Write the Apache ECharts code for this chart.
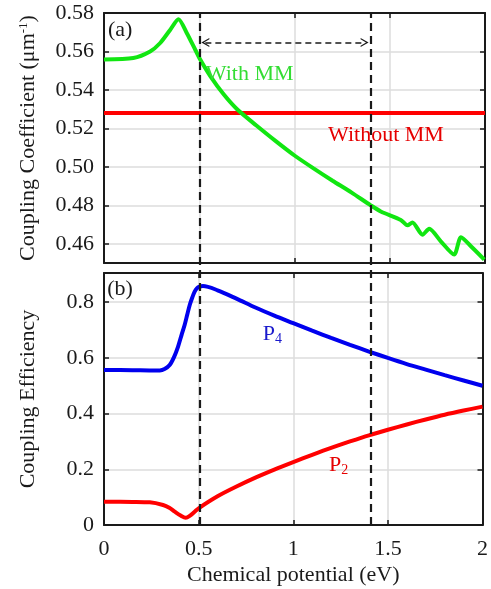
<!DOCTYPE html>
<html>
<head>
<meta charset="utf-8">
<script src="https://cdn.jsdelivr.net/npm/echarts@6/dist/echarts.min.js"></script>
<style>
  html, body { margin: 0; padding: 0; background: #fff; }
  #chart { width: 491px; height: 589px; }
</style>
</head>
<body>
<div id="chart"></div>
<script>
// Chemical potential (eV) sample points and curves
const withMMx = [0, 0.154, 0.242, 0.295, 0.347, 0.391, 0.435, 0.479, 0.505, 0.558, 0.628, 0.7, 0.8, 0.9, 1.0, 1.1, 1.2, 1.3, 1.4, 1.453, 1.558, 1.593, 1.619, 1.672, 1.707, 1.768, 1.838, 1.874, 1.926, 1.996];
const withMMy = [0.5558, 0.5566, 0.560, 0.5644, 0.5712, 0.5768, 0.5695, 0.5609, 0.5558, 0.5472, 0.5377, 0.5298, 0.5215, 0.5135, 0.5059, 0.4992, 0.4928, 0.4866, 0.4800, 0.4768, 0.4724, 0.4696, 0.4711, 0.4647, 0.4678, 0.4613, 0.4544, 0.4634, 0.4587, 0.4518];
const withoutMM = 0.528;

const p4x = [0, 0.15, 0.25, 0.295, 0.32, 0.347, 0.37, 0.391, 0.41, 0.426, 0.44, 0.453, 0.466, 0.479, 0.492, 0.505, 0.523, 0.6, 0.7, 0.8, 0.9, 1.0, 1.1, 1.2, 1.3, 1.4, 1.5, 1.6, 1.7, 1.8, 1.9, 2.0];
const p4y = [0.5566, 0.556, 0.555, 0.555, 0.560, 0.5745, 0.603, 0.640, 0.683, 0.718, 0.756, 0.790, 0.816, 0.838, 0.851, 0.856, 0.858, 0.843, 0.813, 0.781, 0.752, 0.725, 0.698, 0.672, 0.647, 0.623, 0.600, 0.578, 0.558, 0.538, 0.519, 0.500];

const p2x = [0, 0.15, 0.242, 0.312, 0.345, 0.374, 0.405, 0.432, 0.455, 0.479, 0.5, 0.6, 0.7, 0.8, 0.9, 1.0, 1.1, 1.2, 1.3, 1.4, 1.5, 1.6, 1.7, 1.8, 1.9, 2.0];
const p2y = [0.0837, 0.083, 0.0814, 0.0718, 0.062, 0.0478, 0.034, 0.0262, 0.034, 0.0478, 0.060, 0.103, 0.138, 0.170, 0.199, 0.226, 0.252, 0.277, 0.300, 0.322, 0.342, 0.361, 0.379, 0.396, 0.411, 0.425];

// Marked region boundaries
const markA = 0.5, markB = 1.4, arrowLevel = 0.5647;

const topTicks = [0.46, 0.48, 0.50, 0.52, 0.54, 0.56, 0.58];
const botTicks = [0, 0.2, 0.4, 0.6, 0.8];

const pairs = (xs, ys) => xs.map((x, i) => [x, ys[i]]);

const FONT = 'Liberation Serif';
const FS = 22;
const INK = '#1a1a1a';
const GRIDC = '#dcdcdc';

const chart = echarts.init(document.getElementById('chart'), null, { renderer: 'canvas' });

const L = 104, W = 381;
function xAx(gi, showLabels, pos) {
  return {
    type: 'value', gridIndex: gi, min: 0, max: 2, interval: 0.5, position: pos,
    axisLine: { show: true, onZero: false, lineStyle: { color: INK, width: 2 } },
    axisTick: { show: true, inside: true, length: 5, lineStyle: { color: INK, width: 1.5 } },
    axisLabel: { show: showLabels, fontFamily: FONT, fontSize: FS, color: INK, margin: 13 },
    splitLine: { show: pos === 'bottom', lineStyle: { color: GRIDC, width: 1.5 } }
  };
}
function yAx(gi, min, max, ticks, fmt, pos, name, rich) {
  const ax = {
    type: 'value', gridIndex: gi, min: min, max: max, position: pos,
    axisLine: { show: true, onZero: false, lineStyle: { color: INK, width: 2 } },
    axisTick: { show: true, inside: true, length: 5, customValues: ticks, lineStyle: { color: INK, width: 1.5 } },
    axisLabel: pos === 'left' ? { show: true, customValues: ticks, formatter: fmt, fontFamily: FONT, fontSize: FS, color: INK, margin: 10, padding: [4, 0, 0, 0] } : { show: false },
    splitLine: { show: pos === 'left', lineStyle: { color: GRIDC, width: 1.5 } }
  };
  if (name) {
    ax.name = name;
    ax.nameLocation = 'middle';
    ax.nameGap = 65;
    ax.nameTextStyle = { fontFamily: FONT, fontSize: FS, color: INK, rich: rich || {} };
  }
  return ax;
}

const textLabel = (coord, text, color, rich) => ({
  coord: coord, value: 0, symbolSize: 0,
  label: { show: true, position: 'inside', formatter: text, color: color, fontFamily: FONT, fontSize: FS, rich: rich || {} }
});

const supRich = {
  sup: { fontFamily: FONT, fontSize: 13, color: INK, verticalAlign: 'top', lineHeight: 22, padding: [0, 0, 9, 0] }
};
const subRich = (color) => ({
  sub: { fontFamily: FONT, fontSize: 14, color: color, padding: [11, 0, 0, 0] }
});

// Open arrow head, tip pointing up
const ARROW = 'path://M5,0 L10,8 L8.6,8 L5,2.6 L1.4,8 L0,8 Z';

const option = {
  backgroundColor: '#fff',
  animation: false,
  grid: [
    { left: L, top: 13, width: W, height: 250, show: false },
    { left: L, top: 273, width: W, height: 252, show: false },
    { left: L, top: 13, width: W, height: 512, show: false }
  ],
  xAxis: [
    xAx(0, false, 'bottom'), xAx(0, false, 'top'),
    Object.assign(xAx(1, true, 'bottom'), {
      name: 'Chemical potential (eV)', nameLocation: 'middle', nameGap: 39,
      nameTextStyle: { fontFamily: FONT, fontSize: FS, color: INK }
    }),
    xAx(1, false, 'top'),
    { type: 'value', gridIndex: 2, min: 0, max: 2, show: false }
  ],
  yAxis: [
    yAx(0, 0.45, 0.58, topTicks, v => v.toFixed(2), 'left', 'Coupling Coefficient (μm{sup|-1})', supRich),
    yAx(0, 0.45, 0.58, topTicks, null, 'right'),
    yAx(1, 0, 0.905, botTicks, v => (v === 0 ? '0' : v.toFixed(1)), 'left', 'Coupling Efficiency'),
    yAx(1, 0, 0.905, botTicks, null, 'right'),
    { type: 'value', gridIndex: 2, min: 0, max: 1, show: false }
  ],
  series: [
    {
      name: 'Without MM', type: 'line', xAxisIndex: 0, yAxisIndex: 0,
      data: [[0, withoutMM], [2, withoutMM]], showSymbol: false,
      lineStyle: { color: '#ff0000', width: 4 }, z: 3,
      markPoint: { silent: true, data: [textLabel([1.48, 0.5165], 'Without MM', '#e60000')] }
    },
    {
      name: 'With MM', type: 'line', xAxisIndex: 0, yAxisIndex: 0,
      data: pairs(withMMx, withMMy), showSymbol: false, smooth: 0.25,
      lineStyle: { color: '#11e611', width: 4 }, z: 4,
      markPoint: { silent: true, data: [
        textLabel([0.765, 0.548], 'With MM', '#33dd33'),
        textLabel([0.085, 0.5712], '(a)', INK)
      ] },
      markLine: {
        silent: true, symbol: [ARROW, ARROW], symbolSize: [9, 8],
        label: { show: false },
        lineStyle: { color: INK, type: [6, 4], width: 1.6 },
        data: [[{ coord: [markA + 0.032, arrowLevel] }, { coord: [markB - 0.032, arrowLevel] }]]
      }
    },
    {
      name: 'P4', type: 'line', xAxisIndex: 2, yAxisIndex: 2,
      data: pairs(p4x, p4y), showSymbol: false, smooth: 0.3,
      lineStyle: { color: '#0000ee', width: 4 }, z: 4,
      markPoint: { silent: true, data: [
        textLabel([0.89, 0.685], 'P{sub|4}', '#1a1acc', subRich('#1a1acc')),
        textLabel([0.085, 0.845], '(b)', INK)
      ] }
    },
    {
      name: 'P2', type: 'line', xAxisIndex: 2, yAxisIndex: 2,
      data: pairs(p2x, p2y), showSymbol: false, smooth: 0.3,
      lineStyle: { color: '#ff0000', width: 4 }, z: 4,
      markPoint: { silent: true, data: [textLabel([1.24, 0.216], 'P{sub|2}', '#e60000', subRich('#e60000'))] }
    },
    {
      name: 'marks', type: 'line', xAxisIndex: 4, yAxisIndex: 4,
      data: [], z: 5,
      markLine: {
        silent: true, symbol: ['none', 'none'], label: { show: false },
        lineStyle: { color: INK, type: [8, 5], width: 2.2 },
        data: [{ xAxis: markA }, { xAxis: markB }]
      }
    }
  ]
};

chart.setOption(option);
</script>
</body>
</html>
